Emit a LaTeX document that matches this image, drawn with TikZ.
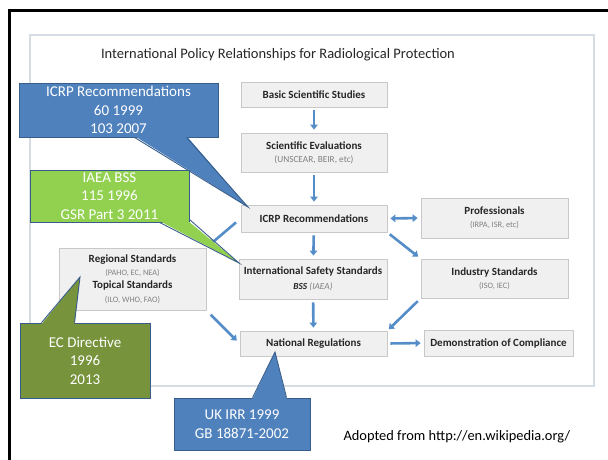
\documentclass[tikz,border=0pt]{standalone}
\usepackage{fontspec}
\setmainfont{Carlito}
\usetikzlibrary{arrows.meta}
\definecolor{arrowblue}{RGB}{84,141,200}
\definecolor{nodefill}{RGB}{240,240,240}
\definecolor{nodeline}{RGB}{200,200,200}
\definecolor{calblue}{RGB}{79,129,189}
\definecolor{caledge}{RGB}{56,93,138}
\definecolor{calgreen}{RGB}{146,208,80}
\definecolor{calolive}{RGB}{119,147,60}
\definecolor{frameline}{RGB}{214,220,228}
\definecolor{titletext}{RGB}{38,38,38}
\definecolor{subtext}{RGB}{128,128,128}
\newcommand\subtx[2][8.3]{{\fontsize{#1}{13.4}\selectfont\mdseries\color{subtext}#2}}
\begin{document}
\begin{tikzpicture}[x=1pt,y=-1pt,
  box/.style={draw=nodeline, fill=nodefill, line width=0.8pt, inner sep=0pt,
    align=center, text=titletext, font=\fontsize{11}{13.4}\selectfont\bfseries},
  flow/.style={draw=arrowblue, line width=2.6pt, -{Triangle[length=5pt,width=7.5pt]},
    shorten <=3pt, shorten >=3pt},
  twoway/.style={flow, {Triangle[length=5pt,width=7.5pt]}-{Triangle[length=5pt,width=7.5pt]}},
  callout/.style={draw=caledge, line width=0.9pt, text=white, align=center,
    inner sep=0pt, font=\fontsize{15}{18.5}\selectfont},
  wedge/.style={draw=caledge, line width=0.9pt, line join=miter}
]
\useasboundingbox (0,0) rectangle (608,459);
% slide frame
\draw[line width=3pt, line cap=rect] (608,10) -- (9,10) -- (9,459);
% inner figure frame
\draw[frameline, line width=1.2pt] (30,35) rectangle (594,386);
\node[font=\fontsize{14.5}{17}\selectfont, text=titletext] (title) at (278,55)
  {International Policy Relationships for Radiological Protection};

% main nodes
\node[box, minimum width=146pt, minimum height=25pt] (basic) at (314,94.5) {Basic Scientific Studies};
\node[box, minimum width=146pt, minimum height=39pt] (eval) at (314,152.5)
  {Scientific Evaluations\\ \subtx[9.3]{(UNSCEAR, BEIR, etc)}};
\node[box, minimum width=146pt, minimum height=27pt] (icrp) at (314,218.5) {ICRP Recommendations};
\node[box, minimum width=147pt, minimum height=40pt] (prof) at (494.5,218)
  {Professionals\\ \subtx{(IRPA, ISR, etc)}};
\node[box, minimum width=147pt, minimum height=39pt] (ind) at (494.5,278.5)
  {Industry Standards\\ \subtx{(ISO, IEC)}};
\node[box, minimum width=148pt, minimum height=40pt] (iss) at (313,279)
  {International Safety Standards\\[1.5pt] {\fontsize{9.3}{13.4}\selectfont\textbf{\textit{BSS}} \mdseries\color{subtext}\textit{(IAEA)}}};
\node[box, minimum width=147pt, minimum height=62pt] (reg) at (132.5,279)
  {Regional Standards\\ \subtx{(PAHO, EC, NEA)}\\ Topical Standards\\ \subtx{(ILO, WHO, FAO)}};
\node[box, minimum width=147pt, minimum height=25pt] (nat) at (313.5,343.5) {National Regulations};
\node[box, minimum width=149pt, minimum height=26pt] (demo) at (498.5,343) {Demonstration of Compliance};

% connectors
\draw[flow] (basic) -- (eval);
\draw[flow] (eval) -- (icrp);
\draw[flow] (icrp) -- (iss);
\draw[flow] (iss) -- (nat);
\draw[twoway] (icrp.east) -- (prof.west);
\draw[flow] (icrp.south east) -- (ind.north west);
\draw[flow, shorten <=6pt, shorten >=4pt] (icrp.west) -- (reg.north east);
\draw[flow, shorten <=6pt, shorten >=4pt] (reg.south east) -- (nat.west);
\draw[flow, shorten <=4pt, shorten >=2pt] (ind.south west) -- (nat.north east);
\draw[flow] (nat.east) -- (demo.west);

% callouts
\coordinate (tipA) at (248,207);
\coordinate (tipB) at (239,263);
\coordinate (tipC) at (80,277);
\coordinate (tipD) at (275,352);

\node[callout, fill=calblue, minimum width=199pt, minimum height=54pt] (cA) at (118.5,110)
  {ICRP Recommendations\\60 1999\\103 2007};
\fill[calblue] ([xshift=116pt,yshift=1.5pt]cA.south west) -- (tipA) -- ([xshift=168pt,yshift=1.5pt]cA.south west) -- cycle;
\draw[wedge] ([xshift=116pt]cA.south west) -- (tipA) -- ([xshift=168pt]cA.south west);

\node[callout, fill=calgreen, minimum width=159pt, minimum height=52pt] (cB) at (109.5,196)
  {IAEA BSS\\115 1996\\GSR Part 3 2011};
\fill[calgreen] ([xshift=130pt,yshift=1.5pt]cB.south west) -- (tipB) -- ([xshift=-1.5pt,yshift=1.5pt]cB.south east) -- cycle;
\draw[wedge] ([xshift=130pt]cB.south west) -- (tipB) -- ([yshift=3pt]cB.south east);

\node[callout, fill=calolive, minimum width=130pt, minimum height=75pt] (cC) at (85,360.5)
  {EC Directive\\1996\\2013};
\fill[calolive] ([xshift=22pt,yshift=-1.5pt]cC.north west) -- (tipC) -- ([xshift=55pt,yshift=-1.5pt]cC.north west) -- cycle;
\draw[wedge] ([xshift=22pt]cC.north west) -- (tipC) -- ([xshift=55pt]cC.north west);

\node[callout, fill=calblue, minimum width=136pt, minimum height=52pt] (cD) at (242,424)
  {UK IRR 1999\\GB 18871-2002};
\fill[calblue] ([xshift=79pt,yshift=-1.5pt]cD.north west) -- (tipD) -- ([xshift=113pt,yshift=-1.5pt]cD.north west) -- cycle;
\draw[wedge] ([xshift=79pt]cD.north west) -- (tipD) -- ([xshift=113pt]cD.north west);

\node[font=\fontsize{14.4}{17}\selectfont, anchor=west] (src) at (340,437) {Adopted from http://en.wikipedia.org/};
\end{tikzpicture}
\end{document}
